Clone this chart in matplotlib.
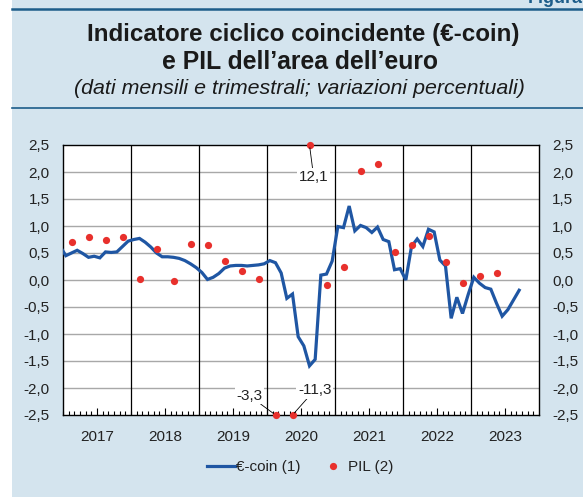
## euro-coin vs PIL area euro - rifacimento grafico
import matplotlib
matplotlib.use("Agg")
import matplotlib.pyplot as plt
import matplotlib.ticker as mticker
from matplotlib.lines import Line2D
import numpy as np
import pandas as pd

plt.rcParams['font.family'] = ['Liberation Sans', 'DejaVu Sans']

##dati: e-coin mensile (dic 2016 - set 2023)
ecoin_start = '2016-12'
ecoin_end = '2023-09'
ecoin = [0.62,
         0.45, 0.50, 0.55, 0.49, 0.42, 0.44, 0.41, 0.52, 0.51, 0.52, 0.62, 0.72,
         0.75, 0.77, 0.70, 0.61, 0.50, 0.43, 0.43, 0.42, 0.40, 0.36, 0.30, 0.23,
         0.14, 0.01, 0.05, 0.12, 0.22, 0.26, 0.27, 0.27, 0.26, 0.27, 0.28, 0.30,
         0.36, 0.32, 0.13, -0.34, -0.26, -1.05, -1.22, -1.59, -1.47, 0.09, 0.11, 0.35,
         0.99, 0.97, 1.37, 0.91, 1.01, 0.97, 0.88, 0.98, 0.75, 0.71, 0.19, 0.21,
         0.00, 0.62, 0.76, 0.62, 0.94, 0.89, 0.37, 0.26, -0.71, -0.32, -0.62, -0.27,
         0.05, -0.06, -0.14, -0.17, -0.43, -0.67, -0.55, -0.37, -0.19]

##dati: PIL trimestrale (2017T1 - 2023T2)
pil_start = '2017Q1'
pil_end = '2023Q2'
pil = [0.71, 0.80, 0.75, 0.79,
       0.01, 0.57, -0.02, 0.67,
       0.64, 0.35, 0.16, 0.01,
       -3.3, -11.3, 12.1, -0.09,
       0.24, 2.02, 2.15, 0.52,
       0.65, 0.81, 0.33, -0.06,
       0.07, 0.13]

years = [2017, 2018, 2019, 2020, 2021, 2022, 2023]
ylo, yhi = -2.5, 2.5

##colori
bg = '#d4e4ee'
dark = '#1d5d8a'
blue = '#1f56a3'
red = '#e8302c'

months = pd.period_range(ecoin_start, ecoin_end, freq='M')
xm = months.year + (months.month - 0.5) / 12
quarters = pd.period_range(pil_start, pil_end, freq='Q')
xq = quarters.year + (quarters.quarter - 0.5) / 4
pil_arr = np.array(pil)
pil_plot = np.clip(pil_arr, ylo, yhi)

fig = plt.figure(figsize=(5.83, 4.97), dpi=100)
fig.patch.set_facecolor('white')

##pannello azzurro e righe
fig.patches.append(plt.Rectangle((12/583, 0), 1, 1, transform=fig.transFigure,
                                 facecolor=bg, edgecolor='none', zorder=-10))
fig.add_artist(Line2D([12/583, 1], [1-8.5/497]*2, color=dark, lw=1.8))
fig.add_artist(Line2D([12/583, 1], [1-108/497]*2, color=dark, lw=1.2))
fig.text(1.0, 1-3/497, 'Figura', ha='right', va='baseline', fontsize=13,
         fontweight='bold', color=dark)

fig.text(0.52, 1-35/497, 'Indicatore ciclico coincidente (€-coin)', ha='center',
         va='center', fontsize=17.4, fontweight='bold', color='#1a1a1a')
fig.text(0.514, 1-62/497, 'e PIL dell’area dell’euro', ha='center',
         va='center', fontsize=17.8, fontweight='bold', color='#1a1a1a')
fig.text(0.513, 1-88/497, '(dati mensili e trimestrali; variazioni percentuali)',
         ha='center', va='center', fontsize=15.4, style='italic', color='#1a1a1a')

ax = fig.add_axes([63/583, 1-415/497, 476/583, 270/497])
ax.set_facecolor('white')
ax.set_xlim(years[0], years[-1] + 1)
ax.set_ylim(ylo, yhi)

##griglia
for v in np.arange(ylo + 0.5, yhi, 0.5):
    ax.axhline(v, color='#a8a8a8', lw=1.0, zorder=1)
for y in years[1:]:
    ax.axvline(y, color='black', lw=0.9, zorder=2)

ax.plot(xm, ecoin, color=blue, lw=2.3, zorder=3, label='€-coin (1)',
        solid_joinstyle='miter')
ax.plot(xq, pil_plot, 'o', color=red, ms=5.2, zorder=4, clip_on=False,
        label='PIL (2)', markeredgewidth=0)

##etichette fuori scala
offs = {-3.3: (-19, 14), -11.3: (16, 18), 12.1: (3, -23)}
for xx, vv, vp in zip(xq, pil_arr, pil_plot):
    if vv < ylo or vv > yhi:
        ax.annotate(('%.1f' % vv).replace('.', ','), xy=(xx, vp),
                    xytext=offs[round(vv, 1)], textcoords='offset points',
                    ha='center', va='center', fontsize=11, color='#222222',
                    bbox=dict(boxstyle='square,pad=0.1', fc='white', ec='none'),
                    arrowprops=dict(arrowstyle='-', color='black', lw=0.6,
                                    shrinkA=0, shrinkB=2), zorder=5)

##assi
for s in ax.spines.values():
    s.set_color('black')
    s.set_linewidth(1.0)
ax.set_xticks([y + 0.5 for y in years])
ax.set_xticklabels([str(y) for y in years])
ax.set_xticks(np.arange(years[0], years[-1] + 1, 1/12), minor=True)
ax.tick_params(axis='x', which='major', direction='in', length=5, width=0.8,
               labelsize=11, pad=11, colors='black', labelcolor='#222222')
ax.tick_params(axis='x', which='minor', direction='in', length=3, width=0.8)
ax.set_yticks(np.arange(ylo, yhi + 0.01, 0.5))
ax.yaxis.set_major_formatter(mticker.FuncFormatter(lambda v, p: ('%.1f' % v).replace('.', ',')))
ax.tick_params(axis='y', which='both', length=0, labelsize=11, pad=9.5,
               labelcolor='#222222', labelleft=True, labelright=True)

leg = fig.legend(loc='center', bbox_to_anchor=(0.515, 1-467/497), ncol=2,
                 frameon=False, fontsize=11, handlelength=1.8, handletextpad=0.1,
                 columnspacing=1.2, labelcolor='#222222')

fig.savefig('out.png', dpi=100, facecolor=fig.get_facecolor())
